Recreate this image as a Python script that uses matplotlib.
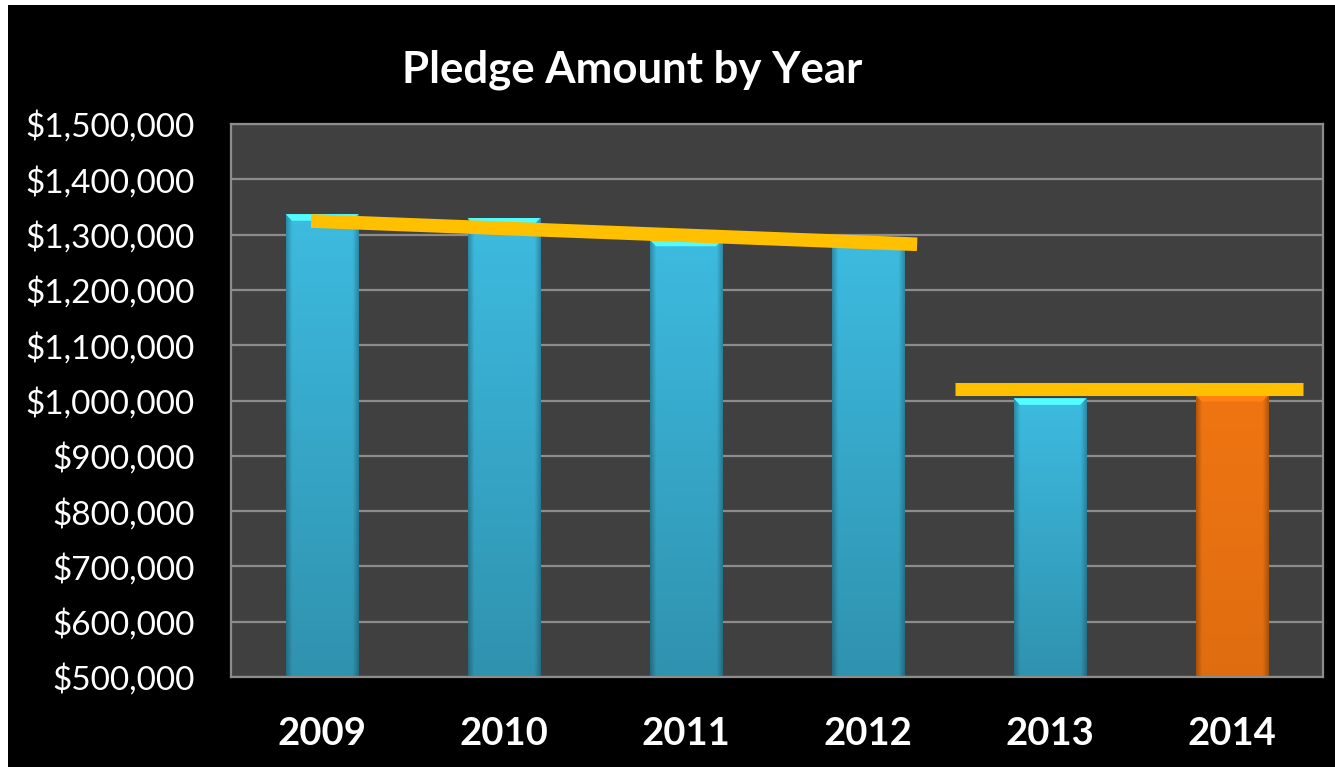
import numpy as np
import matplotlib
matplotlib.use("Agg")
import matplotlib.pyplot as plt
from matplotlib.patches import Rectangle, Polygon
from matplotlib.ticker import FuncFormatter, MultipleLocator

years = ["2009", "2010", "2011", "2012", "2013", "2014"]
pledges = [1337000, 1330000, 1291000, 1288000, 1004000, 1010000]
bar_colors = ["#3DBBE0", "#3DBBE0", "#3DBBE0", "#3DBBE0", "#3DBBE0", "#F07512"]

# trend segments, x in category units
trend1_x = [-0.06, 3.27]
trend1_y = [1324600, 1282500]
trend2_x = [3.48, 5.39]
trend2_y = [1021500, 1021500]

plt.rcParams['font.family'] = ['Lato', 'DejaVu Sans']

fig = plt.figure(figsize=(13.35, 7.67), dpi=100, facecolor="white")
# black slide background with thin white strip at top and left
fig.patches.append(Rectangle((8 / 1335, 0), 1, 1 - 5 / 767, transform=fig.transFigure,
                             facecolor="black", edgecolor="none", zorder=-10))

ax = fig.add_axes([231 / 1335, 90 / 767, 1092 / 1335, 553 / 767])
ax.set_facecolor("#404040")

x = np.arange(len(years))
w = 0.4
ymin = 500000


def shade(c, f):
    c = np.array(matplotlib.colors.to_rgb(c))
    return np.clip(c * f, 0, 1)


for xi, v, c in zip(x, pledges, bar_colors):
    left = xi - w / 2
    orange = c == "#F07512"
    # vertical gradient, darker toward the bottom
    n = 200
    grad = np.linspace(1.0, 0.93 if orange else 0.78, n)[:, None]
    # darker side edges
    cols = np.linspace(0, 1, 60)
    edge = 1 - 0.25 * (np.clip(1 - cols / 0.08, 0, 1) + np.clip(1 - (1 - cols) / 0.08, 0, 1))
    fac = grad * edge[None, :]
    img = shade(c, 1)[None, None, :] * fac[:, :, None]
    img = np.clip(img, 0, 1)
    im = ax.imshow(img, extent=[left, left + w, ymin, v], origin="upper",
                   aspect="auto", zorder=2, interpolation="bilinear")
    r = Rectangle((left, ymin), w, v - ymin, facecolor="none", edgecolor="none", zorder=2)
    ax.add_patch(r)
    im.set_clip_path(r)
    # light bevel along the top
    top = shade(c, 1.1) if orange else shade(c, 1.35)
    bev_h = 12000
    bev_w = 0.035
    ax.add_patch(Polygon([[left, v], [left + w, v], [left + w - bev_w, v - bev_h],
                          [left + bev_w, v - bev_h]], closed=True,
                         facecolor=top, edgecolor="none", zorder=3))

ax.plot(trend1_x, trend1_y, color="#FFC000", lw=9.8, solid_capstyle="butt", zorder=5)
ax.plot(trend2_x, trend2_y, color="#FFC000", lw=9.4, solid_capstyle="butt", zorder=5)

ax.set_xlim(-0.5, 5.5)
ax.set_ylim(ymin, 1500000)
ax.yaxis.set_major_locator(MultipleLocator(100000))
ax.yaxis.set_major_formatter(FuncFormatter(lambda v, p: "${:,.0f}".format(v)))
ax.set_xticks(x)
ax.set_xticklabels(years, fontsize=27.5, fontweight="bold", color="white")
ax.tick_params(axis="x", length=0, pad=29)
ax.tick_params(axis="y", length=0, pad=26, labelsize=24, labelcolor="white")
ax.grid(axis="y", color="#8C8C8C", lw=1.6, zorder=1)
ax.set_axisbelow(True)
for s in ax.spines.values():
    s.set_color("#8C8C8C")
    s.set_linewidth(1.6)

fig.text(632 / 1335, 1 - 70 / 767, "Pledge Amount by Year", ha="center", va="center",
         fontsize=31.5, fontweight="bold", color="white")

fig.savefig("out.png", dpi=100, facecolor=fig.get_facecolor())
